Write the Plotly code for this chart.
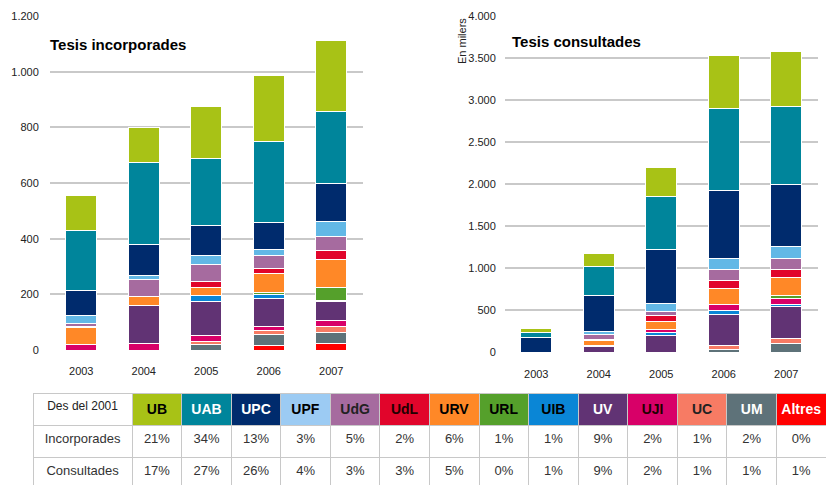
import plotly.graph_objects as go

years = ['2003', '2004', '2005', '2006', '2007']

# Tesis incorporades (stack order bottom -> top)
inc_altres = [0, 0, 0, 15, 24]
inc_um = [0, 0, 19, 42, 39]
inc_uc = [0, 0, 12, 14, 21]
inc_uji = [20, 24, 20, 12, 22]
inc_uv = [0, 137, 123, 103, 67]
inc_uib = [0, 0, 21, 13, 6]
inc_url = [0, 0, 0, 8, 45]
inc_urv = [60, 30, 31, 69, 101]
inc_udl = [5, 0, 21, 17, 31]
inc_udg = [12, 64, 59, 47, 52]
inc_upf = [26, 13, 35, 22, 55]
inc_upc = [90, 111, 107, 97, 134]
inc_uab = [218, 295, 241, 291, 261]
inc_ub = [124, 125, 187, 236, 254]

# Tesis consultades, en milers (stack order bottom -> top)
con_altres = [0, 0, 0, 0, 0]
con_um = [0, 0, 0, 35, 103]
con_uc = [0, 0, 0, 45, 52]
con_uv = [0, 60, 200, 364, 385]
con_uib = [0, 0, 32, 48, 31]
con_uji = [0, 15, 36, 68, 64]
con_url = [0, 0, 0, 0, 32]
con_urv = [0, 60, 92, 192, 218]
con_udl = [0, 10, 72, 100, 99]
con_udg = [0, 60, 56, 128, 127]
con_upf = [0, 45, 88, 128, 143]
con_upc = [176, 425, 640, 809, 742]
con_uab = [54, 341, 633, 976, 921]
con_ub = [44, 151, 350, 634, 663]

# table
unis = ['UB', 'UAB', 'UPC', 'UPF', 'UdG', 'UdL', 'URV', 'URL', 'UIB', 'UV', 'UJI', 'UC', 'UM', 'Altres']
pct_incorporades = ['21%', '34%', '13%', '3%', '5%', '2%', '6%', '1%', '1%', '9%', '2%', '1%', '2%', '0%']
pct_consultades = ['17%', '27%', '26%', '4%', '3%', '3%', '5%', '0%', '1%', '9%', '2%', '1%', '1%', '1%']

colors = {'UB': '#a8c216', 'UAB': '#00859b', 'UPC': '#002b6d', 'UPF': '#62b8e6',
          'UdG': '#a66b9f', 'UdL': '#e1052b', 'URV': '#ff8827', 'URL': '#55a02b',
          'UIB': '#0a86d6', 'UV': '#613374', 'UJI': '#d80068', 'UC': '#f77b64',
          'UM': '#5e7279', 'Altres': '#ff0000'}
head_colors = dict(colors, UPF='#9ccbf3')
head_font = {'UB': 'black', 'UAB': 'white', 'UPC': 'white', 'UPF': 'black', 'UdG': '#222',
             'UdL': '#200', 'URV': 'black', 'URL': 'black', 'UIB': 'black', 'UV': 'white',
             'UJI': '#200', 'UC': '#222', 'UM': 'white', 'Altres': 'white'}

left = [('Altres', inc_altres), ('UM', inc_um), ('UC', inc_uc), ('UJI', inc_uji),
        ('UV', inc_uv), ('UIB', inc_uib), ('URL', inc_url), ('URV', inc_urv),
        ('UdL', inc_udl), ('UdG', inc_udg), ('UPF', inc_upf), ('UPC', inc_upc),
        ('UAB', inc_uab), ('UB', inc_ub)]
right = [('Altres', con_altres), ('UM', con_um), ('UC', con_uc), ('UV', con_uv),
         ('UIB', con_uib), ('UJI', con_uji), ('URL', con_url), ('URV', con_urv),
         ('UdL', con_udl), ('UdG', con_udg), ('UPF', con_upf), ('UPC', con_upc),
         ('UAB', con_uab), ('UB', con_ub)]

fig = go.Figure()
for name, vals in left:
    fig.add_trace(go.Bar(x=years, y=vals, name=name, marker_color=colors[name],
                         marker_line=dict(color='white', width=1),
                         xaxis='x', yaxis='y', showlegend=False))
for name, vals in right:
    fig.add_trace(go.Bar(x=years, y=vals, name=name, marker_color=colors[name],
                         marker_line=dict(color='white', width=1),
                         xaxis='x2', yaxis='y2', showlegend=False))

header_vals = ['Des del 2001'] + ['<b>%s</b>' % u for u in unis]
fig.add_trace(go.Table(
    domain=dict(x=[33 / 826, 1], y=[0, 1 - 393 / 486]),
    columnwidth=[100] + [50] * len(unis),
    header=dict(values=header_vals,
                fill_color=['white'] + [head_colors[u] for u in unis],
                font=dict(family='Liberation Sans, Arial', size=[12] + [14] * len(unis),
                          color=['#222'] + [head_font[u] for u in unis]),
                line_color='#c8c8c8', align='center', height=32),
    cells=dict(values=[['Incorporades', 'Consultades']] +
               [[a, b] for a, b in zip(pct_incorporades, pct_consultades)],
               fill_color='white',
               font=dict(family='Liberation Sans, Arial', size=13, color='#333'),
               line_color='#c8c8c8', align='center', height=32)))

axis_font = dict(family='Liberation Sans, Arial', size=11, color='#222')
fig.update_layout(
    width=826, height=486,
    margin=dict(l=0, r=0, t=0, b=0, autoexpand=False),
    paper_bgcolor='white', plot_bgcolor='white',
    barmode='stack', bargap=0.5,
    separators=',.',
    font=dict(family='Liberation Sans, Arial'),
    xaxis=dict(domain=[50 / 826, 362.5 / 826], anchor='y', tickfont=axis_font,
               showgrid=False, ticks='outside', ticklen=11, tickcolor='rgba(0,0,0,0)',
               range=[-0.5, 4.5]),
    yaxis=dict(domain=[1 - 350 / 486, 1 - 16 / 486], anchor='x', range=[0, 1200],
               dtick=200, separatethousands=True, tickfont=axis_font,
               gridcolor='#c9c9c9', gridwidth=1.5, zeroline=False, ticklen=8,
               ticks='outside', tickcolor='rgba(0,0,0,0)'),
    xaxis2=dict(domain=[505 / 826, 817.5 / 826], anchor='y2', tickfont=axis_font,
                showgrid=False, ticks='outside', ticklen=12, tickcolor='rgba(0,0,0,0)',
                range=[-0.5, 4.5]),
    yaxis2=dict(domain=[1 - 352 / 486, 1 - 16 / 486], anchor='x2', range=[0, 4000],
                dtick=500, separatethousands=True, tickfont=axis_font,
                gridcolor='#c9c9c9', gridwidth=1.5, zeroline=False, ticklen=6,
                ticks='outside', tickcolor='rgba(0,0,0,0)'),
    annotations=[
        dict(text='<b>Tesis incorporades</b>', xref='paper', yref='paper',
             x=48 / 826, y=1 - 45 / 486, xanchor='left', yanchor='middle', showarrow=False,
             font=dict(family='Liberation Sans, Arial', size=15, color='black')),
        dict(text='<b>Tesis consultades</b>', xref='paper', yref='paper',
             x=510 / 826, y=1 - 42 / 486, xanchor='left', yanchor='middle', showarrow=False,
             font=dict(family='Liberation Sans, Arial', size=15, color='black')),
        dict(text='En milers', xref='paper', yref='paper', textangle=-90,
             x=462 / 826, y=1 - 41 / 486, xanchor='center', yanchor='middle', showarrow=False,
             font=dict(family='Liberation Sans, Arial', size=11, color='#222')),
    ],
)

# the page body has a default 8px margin; drop it so the figure sits at the corner
fig.write_html('out.html', config={'displayModeBar': False},
               post_script="document.body.style.margin='0';")
